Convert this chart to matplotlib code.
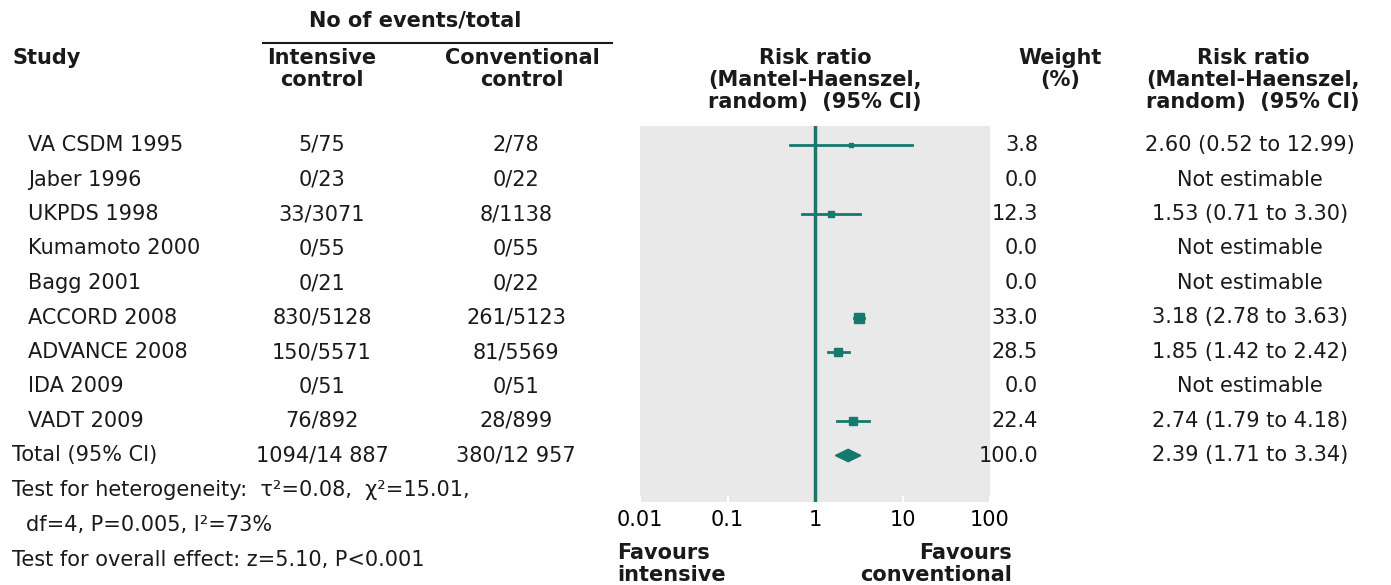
import matplotlib
matplotlib.use("Agg")
import matplotlib.pyplot as plt
from matplotlib.lines import Line2D

# data
studies = ["VA CSDM 1995", "Jaber 1996", "UKPDS 1998", "Kumamoto 2000", "Bagg 2001",
           "ACCORD 2008", "ADVANCE 2008", "IDA 2009", "VADT 2009"]
intensive = ["5/75", "0/23", "33/3071", "0/55", "0/21", "830/5128", "150/5571", "0/51", "76/892"]
conventional = ["2/78", "0/22", "8/1138", "0/55", "0/22", "261/5123", "81/5569", "0/51", "28/899"]
weights = [3.8, 0.0, 12.3, 0.0, 0.0, 33.0, 28.5, 0.0, 22.4]
rr = [2.60, None, 1.53, None, None, 3.18, 1.85, None, 2.74]
rr_lo = [0.52, None, 0.71, None, None, 2.78, 1.42, None, 1.79]
rr_hi = [12.99, None, 3.30, None, None, 3.63, 2.42, None, 4.18]

total_label = "Total (95% CI)"
total_int = "1094/14 887"
total_conv = "380/12 957"
total_weight = 100.0
total_rr, total_lo, total_hi = 2.39, 1.71, 3.34

ticks = [0.01, 0.1, 1, 10, 100]
tick_labels = ["0.01", "0.1", "1", "10", "100"]

W, H = 1391, 585
teal = "#17786e"
fs = 15

fig = plt.figure(figsize=(W / 100, H / 100), dpi=100)
fig.patch.set_facecolor("white")


def txt(x, y, s, bold=False, ha="left", size=fs, ls=1.0):
    fig.text(x / W, 1 - y / H, s, ha=ha, va="center", fontsize=size,
             fontweight="bold" if bold else "normal", color="#1a1a1a",
             family="DejaVu Sans", linespacing=ls)


# forest panel
row0, step = 145, 34.5
top, bot, left, right = 126, 502, 640, 990
ax = fig.add_axes([left / W, 1 - bot / H, (right - left) / W, (bot - top) / H])
ax.set_facecolor("#e9e9e9")
ax.set_xscale("log")
ax.set_xlim(0.01, 100)
ax.set_ylim((bot - row0) / step, (top - row0) / step)
for s in ax.spines.values():
    s.set_visible(False)
ax.set_yticks([])
ax.set_xticks(ticks)
ax.set_xticklabels(tick_labels)
ax.minorticks_off()
ax.tick_params(axis="x", direction="in", length=4, color="white", width=1.5,
               labelsize=fs, pad=6)
ax.axvline(1, color=teal, lw=2.5, zorder=2)

for i in range(len(studies)):
    if rr[i] is None:
        continue
    ax.plot([rr_lo[i], rr_hi[i]], [i, i], color=teal, lw=2, zorder=3)
    side = 9.5 * (weights[i] / 33.0) ** 0.5
    ax.plot(rr[i], i, marker="s", ms=side * 0.72, color=teal, mec=teal, zorder=4)

ti = len(studies)
hh = 0.18
ax.fill([total_lo, total_rr, total_hi, total_rr], [ti, ti - hh, ti, ti + hh],
        color=teal, zorder=4)

# headers
txt(415, 20, "No of events/total", bold=True, ha="center")
fig.add_artist(Line2D([263 / W, 612 / W], [1 - 43 / H, 1 - 43 / H], color="#1a1a1a", lw=1.5))
txt(12, 58, "Study", bold=True)
txt(322, 69, "Intensive\ncontrol", bold=True, ha="center", ls=1.1)
txt(522, 69, "Conventional\ncontrol", bold=True, ha="center", ls=1.1)
txt(815, 80, "Risk ratio\n(Mantel-Haenszel,\nrandom)  (95% CI)", bold=True, ha="center", ls=1.1)
txt(1060, 69, "Weight\n(%)", bold=True, ha="center", ls=1.1)
txt(1253, 80, "Risk ratio\n(Mantel-Haenszel,\nrandom)  (95% CI)", bold=True, ha="center", ls=1.1)

# table rows
for i, name in enumerate(studies):
    y = row0 + i * step
    txt(28, y, name)
    txt(322, y, intensive[i], ha="center")
    txt(516, y, conventional[i], ha="center")
    txt(1038, y, "%.1f" % weights[i], ha="right")
    if rr[i] is None:
        txt(1250, y, "Not estimable", ha="center")
    else:
        txt(1250, y, "%.2f (%.2f to %.2f)" % (rr[i], rr_lo[i], rr_hi[i]), ha="center")

y = row0 + ti * step
txt(12, y, total_label)
txt(322, y, total_int, ha="center")
txt(516, y, total_conv, ha="center")
txt(1038, y, "%.1f" % total_weight, ha="right")
txt(1250, y, "%.2f (%.2f to %.2f)" % (total_rr, total_lo, total_hi), ha="center")

# footer
txt(12, 490, "Test for heterogeneity:  τ²=0.08,  χ²=15.01,")
txt(26, 525, "df=4, P=0.005, I²=73%")
txt(12, 560, "Test for overall effect: z=5.10, P<0.001")
txt(617, 564, "Favours\nintensive", bold=True, ls=1.1)
txt(1012, 564, "Favours\nconventional", bold=True, ha="right", ls=1.1)

fig.savefig("out.png", dpi=100)
